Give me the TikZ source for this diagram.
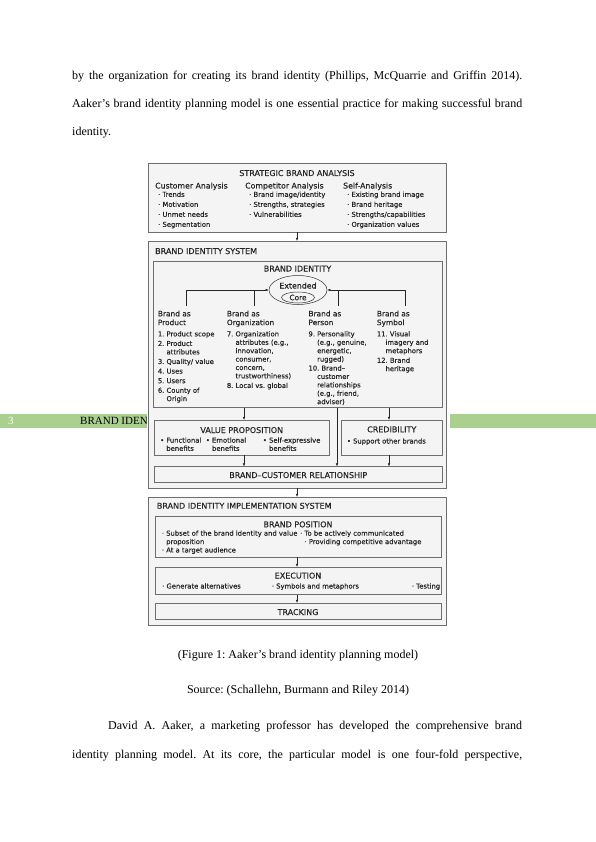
\documentclass[tikz,border=0pt]{standalone}
\usepackage{fontspec}
\setmainfont{Liberation Serif}
\newfontfamily\dgfont[FakeBold=0.35]{DejaVu Sans}
\usetikzlibrary{arrows.meta,shapes.geometric}
\definecolor{bandgreen}{RGB}{169,208,142}
\definecolor{boxline}{RGB}{110,110,110}
\definecolor{boxfill}{RGB}{244,244,244}
\frenchspacing
\begin{document}
\begin{tikzpicture}[x=1pt,y=-1pt,
  body/.style={anchor=base west,inner sep=0,font=\fontsize{12}{14}\selectfont},
  bodyc/.style={anchor=base,inner sep=0,font=\fontsize{12}{14}\selectfont},
  pbox/.style={draw=boxline,fill=boxfill,line width=0.6pt,anchor=north west,inner sep=0,outer sep=0},
  hd/.style={anchor=base,inner sep=0,text=black!85,font=\dgfont\fontsize{8}{9}\selectfont},
  hdl/.style={hd,anchor=base west},
  sub/.style={anchor=base west,inner sep=0,text=black!85,font=\dgfont\fontsize{7.8}{9}\selectfont},
  ml/.style={anchor=north west,inner sep=0,align=left,text=black!85,yshift=6pt,execute at begin node={\rule{0pt}{6pt}}},
  bas/.style={ml,font=\dgfont\fontsize{7.4}{8.8}\selectfont},
  itm/.style={ml,font=\dgfont\fontsize{6.8}{8.4}\selectfont},
  arr/.style={-{Latex[length=3.2pt,width=2.6pt]},line width=0.5pt,draw=black!85},
  conn/.style={line width=0.5pt,draw=black!85}]
\useasboundingbox (0,0) rectangle (596,842);
\fill[white] (0,0) rectangle (596,842);

% body text above
\node[body] (l1) at (72,79.5) {\makebox[450pt][s]{by the organization for creating its brand identity (Phillips, McQuarrie and Griffin 2014).}};
\node[body] (l2) at (72,107.5) {\makebox[450pt][s]{Aaker’s brand identity planning model is one essential practice for making successful brand}};
\node[body] (l3) at (72,135.5) {identity.};

% header band of next page
\fill[bandgreen] (0,413.5) rectangle (596,427.5);
\node[anchor=base west,inner sep=0,text=white,font=\fontsize{11}{12}\selectfont] (pg) at (8,424.5) {3};
\node[anchor=base west,inner sep=0,font=\fontsize{11}{12}\selectfont] (hdr) at (80,424.5) {BRAND IDEN};

% figure background
\fill[white] (146.5,159) rectangle (449.5,630);

% boxes
\node[pbox,minimum width=298pt,minimum height=69pt] (sba) at (148,163) {};
\node[pbox,minimum width=298.5pt,minimum height=247pt] (bis) at (148,241) {};
\node[pbox,minimum width=289pt,minimum height=146.5pt] (bi) at (153.5,261) {};
\node[pbox,minimum width=174.5pt,minimum height=35pt] (vp) at (154.5,420) {};
\node[pbox,minimum width=100.5pt,minimum height=35pt] (cred) at (341.5,420) {};
\node[pbox,minimum width=288.5pt,minimum height=16pt] (bcr) at (154,466.5) {};
\node[pbox,minimum width=298pt,minimum height=128pt] (biis) at (148.5,497) {};
\node[pbox,minimum width=286pt,minimum height=41pt] (bp) at (155,516) {};
\node[pbox,minimum width=286pt,minimum height=27.5pt] (exe) at (155,567) {};
\node[pbox,minimum width=286pt,minimum height=16.5pt] (trk) at (155,603) {};

% strategic brand analysis
\node[hd] (t1) at (297,176) {STRATEGIC BRAND ANALYSIS};
\node[sub] (ca) at (155,188.5) {Customer Analysis};
\node[sub] (coa) at (245,188.5) {Competitor Analysis};
\node[sub] (sa) at (343,188.5) {Self-Analysis};
\node[itm,font=\dgfont\fontsize{6.8}{10}\selectfont] (cai) at (158,197.5) {· Trends\\· Motivation\\· Unmet needs\\· Segmentation};
\node[itm,font=\dgfont\fontsize{6.8}{10}\selectfont] (coai) at (249,197.5) {· Brand image/identity\\· Strengths, strategies\\· Vulnerabilities};
\node[itm,font=\dgfont\fontsize{6.8}{10}\selectfont] (sai) at (347,197.5) {· Existing brand image\\· Brand heritage\\· Strengths/capabilities\\· Organization values};

% brand identity system
\node[hdl] (t2) at (155,254) {BRAND IDENTITY SYSTEM};
\node[hd] (t3) at (297.5,271.5) {BRAND IDENTITY};
\node[ellipse,draw=black!80,line width=0.5pt,minimum width=58pt,minimum height=29pt,inner sep=0] (ext) at (298,290) {};
\node[anchor=base,inner sep=0,text=black!85,font=\dgfont\fontsize{7.8}{9}\selectfont] (extt) at (298,288.5) {Extended};
\node[ellipse,draw=black!80,line width=0.5pt,minimum width=33pt,minimum height=11pt,inner sep=0,text=black!85,font=\dgfont\fontsize{7.4}{8}\selectfont] (core) at (298,297.5) {Core};

\coordinate (lp) at (186,306);
\coordinate (lo) at (254,306);
\coordinate (rp) at (338,306);
\coordinate (rs) at (405,306);
\draw[arr] (lp) |- (ext.west);
\draw[conn] (lo) -- (lo |- ext.west);
\draw[arr] (rs) |- (ext.east);
\draw[conn] (rp) -- (rp |- ext.east);

\node[bas] (bP) at (157.7,316.5) {Brand as\\Product};
\node[bas] (bO) at (226.7,316.5) {Brand as\\Organization};
\node[bas] (bPe) at (308.3,316.5) {Brand as\\Person};
\node[bas] (bS) at (376.7,316.5) {Brand as\\Symbol};

\node[itm] (iP) at (157.7,337) {1. Product scope\\[1.2pt]2. Product\\\hphantom{2. }attributes\\[1.2pt]3. Quality/ value\\[1.2pt]4. Uses\\[1.2pt]5. Users\\[1.2pt]6. County of\\\hphantom{6. }Origin};
\node[itm] (iO) at (226.7,337) {7. Organization\\\hphantom{7. }attributes (e.g.,\\\hphantom{7. }innovation,\\\hphantom{7. }consumer,\\\hphantom{7. }concern,\\\hphantom{7. }trustworthiness)\\[1.2pt]8. Local vs. global};
\node[itm] (iPe) at (308.3,337) {9. Personality\\\hphantom{9. }(e.g., genuine,\\\hphantom{9. }energetic,\\\hphantom{9. }rugged)\\[0.6pt]10. Brand–\\\hphantom{9. }customer\\\hphantom{9. }relationships\\\hphantom{9. }(e.g., friend,\\\hphantom{9. }adviser)};
\node[itm] (iS) at (376.7,337) {11. Visual\\\hphantom{1. }imagery and\\\hphantom{1. }metaphors\\[1.2pt]12. Brand\\\hphantom{1. }heritage};

% value proposition, credibility
\node[hd] (t4) at (241.75,433) {VALUE PROPOSITION};
\node[itm,font=\dgfont\fontsize{6.8}{8.2}\selectfont] (v1) at (160,443.3) {• Functional\\\hphantom{• }benefits};
\node[itm,font=\dgfont\fontsize{6.8}{8.2}\selectfont] (v2) at (205.7,443.3) {• Emotional\\\hphantom{• }benefits};
\node[itm,font=\dgfont\fontsize{6.8}{8.2}\selectfont] (v3) at (262.7,443.3) {• Self-expressive\\\hphantom{• }benefits};
\node[hd] (t5) at (391.75,432.3) {CREDIBILITY};
\node[itm] (c1) at (346.7,443.3) {• Support other brands};
\node[hd] (t6) at (298.25,478) {BRAND–CUSTOMER RELATIONSHIP};

% implementation system
\node[hdl] (t7) at (156.7,508.7) {BRAND IDENTITY IMPLEMENTATION SYSTEM};
\node[hd] (t8) at (298,527.3) {BRAND POSITION};
\node[itm,font=\dgfont\fontsize{6.8}{8.4}\selectfont] (p1) at (161.7,536.3) {· Subset of the brand identity and value\\\hphantom{· }proposition\\· At a target audience};
\node[itm,font=\dgfont\fontsize{6.8}{8.4}\selectfont] (p2) at (300,536.3) {· To be actively communicated\\\hphantom{· }· Providing competitive advantage};
\node[hd] (t9) at (298,578.5) {EXECUTION};
\node[itm] (e1) at (162,588.3) {· Generate alternatives};
\node[itm] (e2) at (271.7,588.3) {· Symbols and metaphors};
\node[itm] (e3) at (411.7,588.3) {· Testing};
\node[hd] (t10) at (298,615) {TRACKING};

% connectors between boxes
\coordinate (mx) at (297,0);
\coordinate (vx) at (244,0);
\coordinate (cx) at (389,0);
\coordinate (px) at (337,0);
\draw[arr] (sba.south -| mx) -- (bis.north -| mx);
\draw[arr] (bis.south -| mx) -- (biis.north -| mx);
\draw[arr] (bp.south -| mx) -- (exe.north -| mx);
\draw[arr] (exe.south -| mx) -- (trk.north -| mx);
\draw[arr] (bi.south -| vx) -- (vp.north -| vx);
\draw[arr] (vp.south -| vx) -- (bcr.north -| vx);
\draw[arr] (bi.south -| cx) -- (cred.north -| cx);
\draw[arr] (cred.south -| cx) -- (bcr.north -| cx);
\draw[arr] (bi.south -| px) -- (bcr.north -| px);

% caption and body text below
\node[bodyc] (cap) at (298,658.5) {(Figure 1: Aaker’s brand identity planning model)};
\node[bodyc] (src) at (298,693.5) {Source: (Schallehn, Burmann and Riley 2014)};
\node[body] (l4) at (108,729.5) {\makebox[414pt][s]{David A. Aaker, a marketing professor has developed the comprehensive brand}};
\node[body] (l5) at (72,758.5) {\makebox[450pt][s]{identity planning model. At its core, the particular model is one four-fold perspective,}};
\end{tikzpicture}
\end{document}
